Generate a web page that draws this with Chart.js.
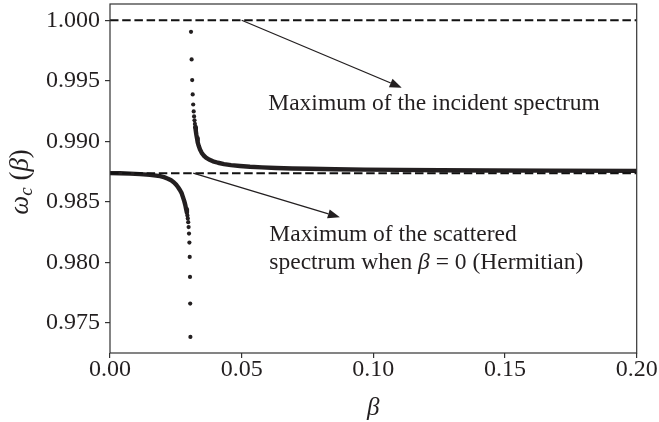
<!DOCTYPE html>
<html>
<head>
<meta charset="utf-8">
<script src="https://cdn.jsdelivr.net/npm/chart.js@4.4.0/dist/chart.umd.min.js"></script>
<style>
  html, body { margin: 0; padding: 0; background: #fff; }
  #wrap { width: 659px; height: 422px; }
</style>
</head>
<body>
<div id="wrap"><canvas id="chart1" width="659" height="422"></canvas></div>
<script>
// omega_c(beta). Dense parts are drawn as a thick line,
// the sparse dots near the singularity as single points.
var lowerCurveBeta  = [0.0000, 0.0038, 0.0076, 0.0114, 0.0152, 0.0175, 0.0190, 0.0205, 0.0220, 0.0232, 0.0243, 0.0251, 0.0258, 0.0266, 0.0272, 0.0277, 0.0282, 0.0286, 0.0289, 0.0292];
var lowerCurveOmega = [0.98737, 0.98736, 0.98733, 0.98729, 0.98723, 0.98717, 0.98712, 0.98704, 0.98691, 0.98678, 0.98660, 0.98643, 0.98623, 0.98596, 0.98572, 0.98539, 0.98506, 0.98473, 0.98440, 0.98411];
var lowerDotsBeta   = [0.02939, 0.02954, 0.02970, 0.02985, 0.03000, 0.03015, 0.03027, 0.03038, 0.03045, 0.03053];
var lowerDotsOmega  = [0.98388, 0.98363, 0.98332, 0.98292, 0.98238, 0.98164, 0.98045, 0.97880, 0.97660, 0.97385];

var upperDotsBeta   = [0.03076, 0.03099, 0.03121, 0.03140, 0.03159, 0.03178, 0.03193, 0.03209, 0.03224, 0.03239];
var upperDotsOmega  = [0.99904, 0.99676, 0.99506, 0.99387, 0.99304, 0.99247, 0.99206, 0.99173, 0.99144, 0.99117];
var upperCurveBeta  = [0.03239, 0.03258, 0.03277, 0.03304, 0.03330, 0.03368, 0.03418, 0.03482, 0.03558, 0.03645, 0.03759, 0.03911, 0.04101, 0.04329, 0.04595, 0.04936, 0.05316, 0.05772, 0.06303, 0.06911, 0.07594, 0.08544, 0.09683, 0.11012, 0.12531, 0.14429, 0.16708, 0.20000];
var upperCurveOmega = [0.99117, 0.99086, 0.99057, 0.99025, 0.98992, 0.98963, 0.98932, 0.98905, 0.98883, 0.98866, 0.98850, 0.98835, 0.98823, 0.98812, 0.98803, 0.98796, 0.98790, 0.98785, 0.98780, 0.98776, 0.98773, 0.98769, 0.98766, 0.98764, 0.98761, 0.98759, 0.98758, 0.98756];

var incidentMax = 1.000;
var hermitianMax = 0.98737;

var xTicks = [0.00, 0.05, 0.10, 0.15, 0.20];
var yTicks = [0.975, 0.980, 0.985, 0.990, 0.995, 1.000];

// annotation arrows (data coordinates) and their texts
var arrowIncident = { from: [0.0500, 1.000], to: [0.1108, 0.99443] };
var arrowScattered = { from: [0.0316, 0.98737], to: [0.0873, 0.98373] };
var textIncidentAt = [0.0601, 0.99259];
var textScatteredAt = [0.0605, 0.98181];

var ink = "#231f20";
var serif = "'Liberation Serif', 'Times New Roman', serif";

function toPoints(xs, ys) {
    var pts = [];
    for (var i = 0; i < xs.length; i++) pts.push({ x: xs[i], y: ys[i] });
    return pts;
}

function hline(v) {
    return [{ x: xTicks[0], y: v }, { x: xTicks[xTicks.length - 1], y: v }];
}

function drawArrow(ctx, x0, y0, x1, y1) {
    var ang = Math.atan2(y1 - y0, x1 - x0);
    var len = 12, half = 4.6;
    var bx = x1 - len * Math.cos(ang), by = y1 - len * Math.sin(ang);
    ctx.beginPath();
    ctx.moveTo(x0, y0);
    ctx.lineTo(bx, by);
    ctx.stroke();
    ctx.beginPath();
    ctx.moveTo(x1, y1);
    ctx.lineTo(bx + half * Math.sin(ang), by - half * Math.cos(ang));
    ctx.lineTo(bx - half * Math.sin(ang), by + half * Math.cos(ang));
    ctx.closePath();
    ctx.fill();
}

// draws a line made of pieces: [text, italic?, sizeScale, baselineShift]
function drawPieces(ctx, pieces, x, y, size) {
    for (var i = 0; i < pieces.length; i++) {
        var p = pieces[i];
        var s = size * (p[2] || 1);
        ctx.font = (p[1] ? "italic " : "") + s + "px " + serif;
        ctx.fillText(p[0], x, y + (p[3] || 0));
        x += ctx.measureText(p[0]).width;
    }
}

function piecesWidth(ctx, pieces, size) {
    var w = 0;
    for (var i = 0; i < pieces.length; i++) {
        var p = pieces[i];
        ctx.font = (p[1] ? "italic " : "") + size * (p[2] || 1) + "px " + serif;
        w += ctx.measureText(p[0]).width;
    }
    return w;
}

var frameAndNotes = {
    id: "frameAndNotes",
    afterDraw: function(chart) {
        var ctx = chart.ctx, a = chart.chartArea;
        var xs = chart.scales.x, ys = chart.scales.y;
        ctx.save();
        ctx.strokeStyle = "#333";
        ctx.lineWidth = 1.2;
        ctx.strokeRect(a.left, a.top, a.right - a.left, a.bottom - a.top);

        ctx.strokeStyle = ink;
        ctx.fillStyle = ink;
        ctx.lineWidth = 1.3;
        [arrowIncident, arrowScattered].forEach(function(ar) {
            drawArrow(ctx,
                xs.getPixelForValue(ar.from[0]), ys.getPixelForValue(ar.from[1]),
                xs.getPixelForValue(ar.to[0]), ys.getPixelForValue(ar.to[1]));
        });

        ctx.textBaseline = "alphabetic";
        ctx.textAlign = "left";
        var fs = 23.5;
        var tx = xs.getPixelForValue(textIncidentAt[0]), ty = ys.getPixelForValue(textIncidentAt[1]);
        drawPieces(ctx, [["Maximum of the incident spectrum"]], tx, ty, fs);
        tx = xs.getPixelForValue(textScatteredAt[0]);
        ty = ys.getPixelForValue(textScatteredAt[1]);
        drawPieces(ctx, [["Maximum of the scattered"]], tx, ty, fs);
        drawPieces(ctx, [["spectrum when "], ["\u03b2", true], [" = 0 (Hermitian)"]], tx, ty + 28.5, fs);

        // axis labels
        var lsize = 25;
        var xl = [["\u03b2", true]];
        var xw = piecesWidth(ctx, xl, lsize);
        drawPieces(ctx, xl, (a.left + a.right) / 2 - xw / 2, 415, lsize);

        var ysize = 27;
        var yl = [["\u03c9", true], ["c", true, 0.7, 4], [" ("], ["\u03b2", true], [")"]];
        var yw = piecesWidth(ctx, yl, ysize);
        ctx.translate(28, 182);
        ctx.rotate(-Math.PI / 2);
        drawPieces(ctx, yl, -yw / 2, 0, ysize);
        ctx.restore();
    }
};

new Chart(document.getElementById("chart1"), {
    type: "scatter",
    data: {
        datasets: [
            { data: hline(incidentMax), showLine: true, borderColor: "#111", borderWidth: 2, borderDash: [8.5, 3.7], pointRadius: 0 },
            { data: hline(hermitianMax), showLine: true, borderColor: "#111", borderWidth: 2, borderDash: [8.5, 3.7], pointRadius: 0 },
            { data: toPoints(lowerCurveBeta, lowerCurveOmega), showLine: true, borderColor: ink, borderWidth: 4.4, borderCapStyle: "round", borderJoinStyle: "round", pointRadius: 0 },
            { data: toPoints(lowerDotsBeta, lowerDotsOmega), pointRadius: 2.1, pointBorderWidth: 0, pointBackgroundColor: ink },
            { data: toPoints(upperDotsBeta, upperDotsOmega), pointRadius: 2.1, pointBorderWidth: 0, pointBackgroundColor: ink },
            { data: toPoints(upperCurveBeta, upperCurveOmega), showLine: true, borderColor: ink, borderWidth: 4.4, borderCapStyle: "round", borderJoinStyle: "round", pointRadius: 0 }
        ]
    },
    options: {
        responsive: false,
        animation: false,
        devicePixelRatio: 1,
        layout: { padding: { left: 0, right: 22.3, top: 2.5, bottom: 0 } },
        plugins: { legend: { display: false }, tooltip: { enabled: false } },
        scales: {
            x: {
                type: "linear",
                min: 0, max: 0.2,
                afterBuildTicks: function(scale) { scale.ticks = xTicks.map(function(v) { return { value: v }; }); },
                afterFit: function(scale) { scale.height = 69; scale.paddingLeft = 0; scale.paddingRight = 0; },
                grid: { drawOnChartArea: false, drawTicks: true, tickLength: 5, color: "#333", lineWidth: 1.2 },
                border: { display: false },
                ticks: {
                    autoSkip: false, maxRotation: 0, padding: -3, color: ink,
                    font: { family: serif, size: 24 },
                    callback: function(v) { return v.toFixed(2); }
                }
            },
            y: {
                type: "linear",
                min: 0.97252, max: 1.00134,
                afterBuildTicks: function(scale) { scale.ticks = yTicks.map(function(v) { return { value: v }; }); },
                afterFit: function(scale) { scale.width = 110; scale.paddingTop = 0; scale.paddingBottom = 0; },
                grid: { drawOnChartArea: false, drawTicks: true, tickLength: 5, color: "#333", lineWidth: 1.2 },
                border: { display: false },
                ticks: {
                    autoSkip: false, padding: 5, color: ink,
                    font: { family: serif, size: 24 },
                    callback: function(v) { return v.toFixed(3); }
                }
            }
        }
    },
    plugins: [frameAndNotes]
});
</script>
</body>
</html>
